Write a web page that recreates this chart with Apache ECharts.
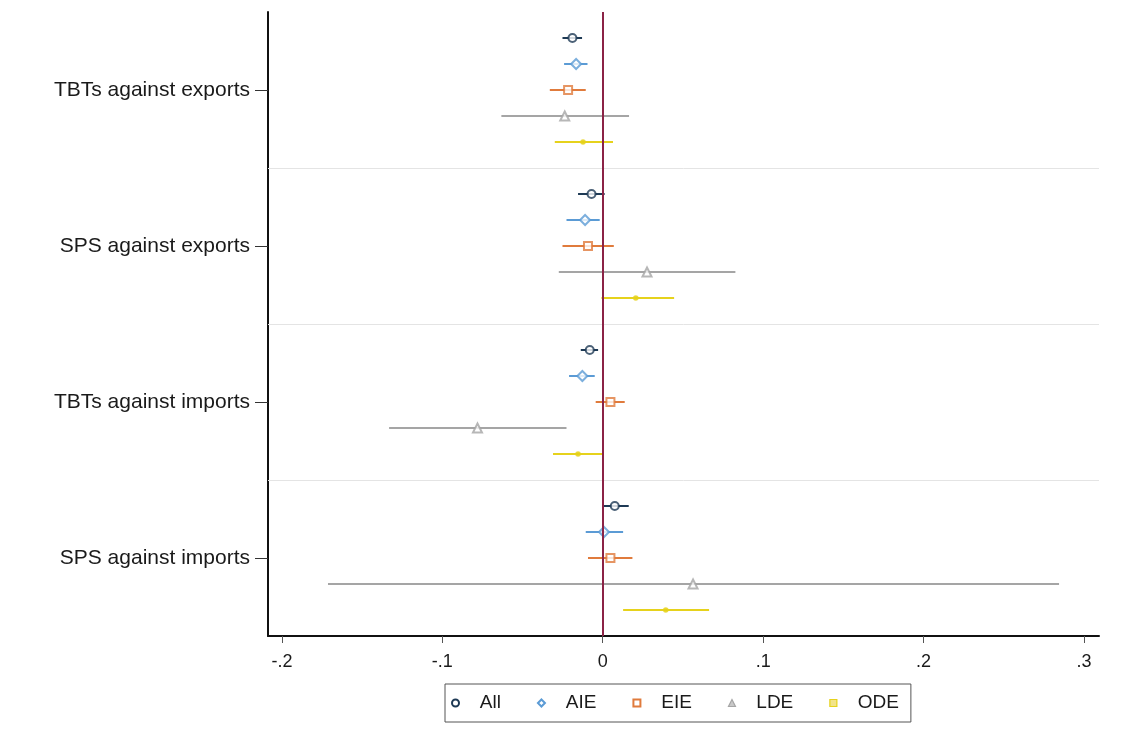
<!DOCTYPE html>
<html>
<head>
<meta charset="utf-8">
<script src="https://cdn.jsdelivr.net/npm/echarts@6/dist/echarts.min.js"></script>
<style>
html,body{margin:0;padding:0;background:#fff;}
#chart{width:1121px;height:753px;}
</style>
</head>
<body>
<div id="chart"></div>
<script>
// Categories (rows on the y axis, top to bottom)
const categories = ['TBTs against exports', 'SPS against exports', 'TBTs against imports', 'SPS against imports'];
const models = ['All', 'AIE', 'EIE', 'LDE', 'ODE'];
const xTicks = [-0.2, -0.1, 0, 0.1, 0.2, 0.3];
const xTickLabels = ['-.2', '-.1', '0', '.1', '.2', '.3'];

// Point estimates and confidence bounds per model, one value per category
const allEst = [-0.0189, -0.0070, -0.0081, 0.0075];
const allLo  = [-0.0251, -0.0154, -0.0137, -0.0002];
const allHi  = [-0.0129,  0.0012, -0.0029, 0.0162];

const aieEst = [-0.0166, -0.0110, -0.0127, 0.0008];
const aieLo  = [-0.0241, -0.0226, -0.0210, -0.0106];
const aieHi  = [-0.0095, -0.0019, -0.0050, 0.0127];

const eieEst = [-0.0216, -0.0092, 0.0048, 0.0048];
const eieLo  = [-0.0330, -0.0251, -0.0044, -0.0092];
const eieHi  = [-0.0106,  0.0069, 0.0137, 0.0185];

const ldeEst = [-0.0237, 0.0276, -0.0781, 0.0563];
const ldeLo  = [-0.0632, -0.0274, -0.1332, -0.1713];
const ldeHi  = [ 0.0164, 0.0827, -0.0226, 0.2845];

const odeEst = [-0.0123, 0.0206, -0.0154, 0.0393];
const odeLo  = [-0.0299, -0.0008, -0.0310, 0.0127];
const odeHi  = [ 0.0064, 0.0445, 0.0002, 0.0663];

const seriesData = [
  {est: allEst, lo: allLo, hi: allHi},
  {est: aieEst, lo: aieLo, hi: aieHi},
  {est: eieEst, lo: eieLo, hi: eieHi},
  {est: ldeEst, lo: ldeLo, hi: ldeHi},
  {est: odeEst, lo: odeLo, hi: odeHi}
];

const colors = ['#1e3a55', '#5b9bd5', '#e07b3c', '#a5a5a5', '#e6d21c'];
const symbols = ['emptyCircle', 'emptyDiamond', 'emptyRect', 'emptyTriangle', 'circle'];
const symbolSizes = [8, 10, 8, 9, 4];
const legendIcons = ['emptyCircle', 'emptyDiamond', 'emptyRect', 'triangle', 'rect'];

const slotsPerGroup = 6;
const rowPos = (g, m) => g * slotsPerGroup + m + 1;
const labelPos = categories.map((c, g) => g * slotsPerGroup + 3);
const sepPos = [6, 12, 18];

const FONT = '"Liberation Sans", Arial, sans-serif';

const series = [];
models.forEach((name, m) => {
  const d = seriesData[m];
  series.push({
    name: name,
    type: 'custom',
    z: 2,
    silent: true,
    data: categories.map((c, g) => [d.lo[g], d.hi[g], rowPos(g, m)]),
    encode: {x: [0, 1], y: 2},
    renderItem: (params, api) => {
      const p1 = api.coord([api.value(0), api.value(2)]);
      const p2 = api.coord([api.value(1), api.value(2)]);
      return {
        type: 'line',
        shape: {x1: p1[0], y1: p1[1], x2: p2[0], y2: p2[1]},
        style: {stroke: colors[m], lineWidth: 2}
      };
    }
  });
});
models.forEach((name, m) => {
  const d = seriesData[m];
  series.push({
    name: name,
    type: 'scatter',
    z: 3,
    silent: true,
    symbol: symbols[m],
    symbolSize: symbolSizes[m],
    itemStyle: {color: colors[m], borderColor: colors[m], borderWidth: 1.6},
    data: categories.map((c, g) => [d.est[g], rowPos(g, m)])
  });
});
// reference lines: separators between groups and the zero line
series.push({
  type: 'line',
  name: '_ref',
  data: [],
  silent: true,
  z: 5,
  markLine: {
    silent: true,
    symbol: 'none',
    label: {show: false},
    animation: false,
    data: [
      ...sepPos.map(v => ({yAxis: v, lineStyle: {color: '#e4e4e4', width: 1, type: 'solid'}})),
      {xAxis: 0, lineStyle: {color: '#8b2346', width: 2, type: 'solid'}}
    ]
  }
});

const chart = echarts.init(document.getElementById('chart'), null, {renderer: 'canvas'});
chart.setOption({
  animation: false,
  backgroundColor: '#ffffff',
  color: colors,
  grid: {left: 268, right: 22, top: 12, bottom: 117, containLabel: false},
  xAxis: {
    type: 'value',
    min: -0.2087,
    max: 0.3094,
    axisLine: {show: true, onZero: false, lineStyle: {color: '#111', width: 2}},
    axisTick: {show: true, customValues: xTicks, length: 7, lineStyle: {color: '#555', width: 1}},
    axisLabel: {
      customValues: xTicks,
      margin: 17,
      color: '#1a1a1a',
      fontFamily: FONT,
      fontSize: 18,
      formatter: v => {
        const i = xTicks.findIndex(t => Math.abs(t - v) < 1e-9);
        return i >= 0 ? xTickLabels[i] : '';
      }
    },
    splitLine: {show: false}
  },
  yAxis: {
    type: 'value',
    inverse: true,
    min: 0,
    max: 24,
    axisLine: {show: true, onZero: false, lineStyle: {color: '#111', width: 2}},
    axisTick: {show: true, customValues: labelPos, length: 13, lineStyle: {color: '#333', width: 1}},
    axisLabel: {
      customValues: labelPos,
      margin: 18,
      color: '#1a1a1a',
      fontFamily: FONT,
      fontSize: 21,
      formatter: v => {
        const i = labelPos.indexOf(Math.round(v));
        return i >= 0 ? categories[i] : '';
      }
    },
    splitLine: {show: false}
  },
  legend: {
    left: 445,
    top: 684,
    orient: 'horizontal',
    padding: [9, 12, 9, 6],
    itemWidth: 7,
    itemHeight: 7,
    itemGap: 36,
    borderColor: '#555',
    borderWidth: 1,
    backgroundColor: '#fff',
    textStyle: {fontFamily: FONT, fontSize: 19, color: '#1a1a1a', lineHeight: 20},
    formatter: n => '   ' + n,
    data: models.map((n, m) => ({name: n, icon: legendIcons[m], itemStyle: {color: m === 4 ? '#f2e48a' : (m === 3 ? '#c8c8c8' : colors[m]), borderColor: colors[m], borderWidth: 1.2}}))
  },
  series: series
});
</script>
</body>
</html>
